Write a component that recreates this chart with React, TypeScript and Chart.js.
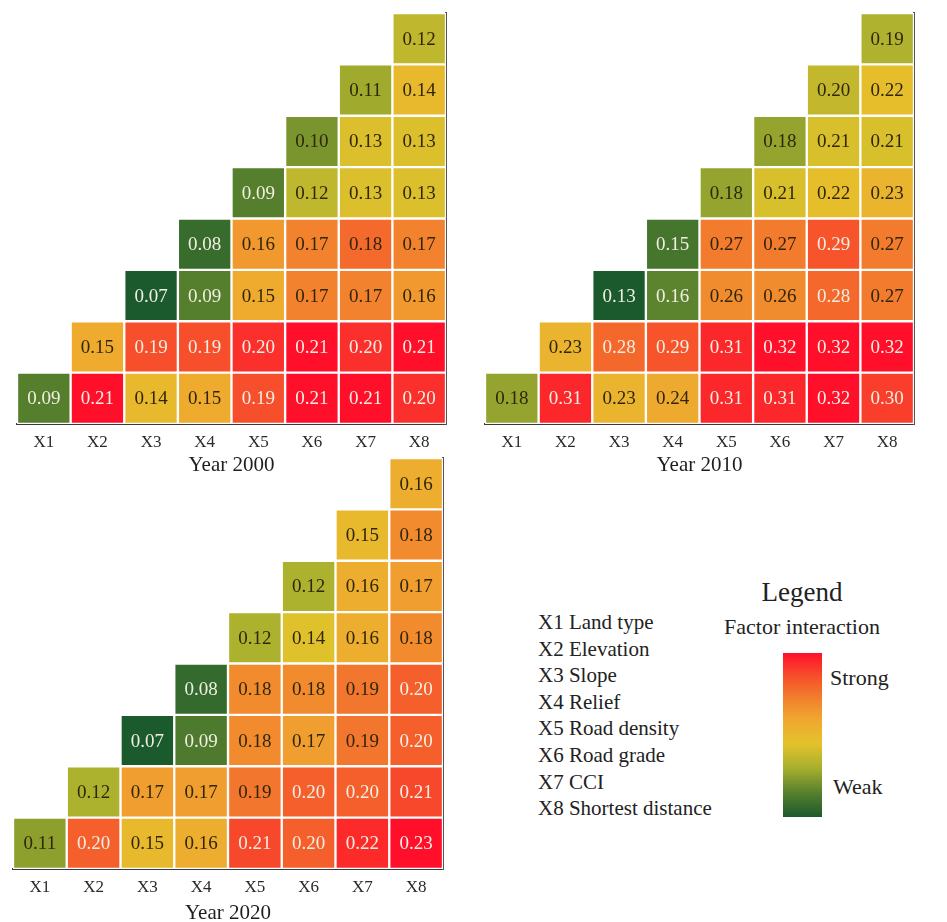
import React, { useEffect, useRef } from 'react';
import { Chart, registerables } from 'chart.js';

Chart.register(...registerables);

// ---------- data ----------
const factors = ['X1', 'X2', 'X3', 'X4', 'X5', 'X6', 'X7', 'X8'];
const factorNames = ['Land type', 'Elevation', 'Slope', 'Relief', 'Road density', 'Road grade', 'CCI', 'Shortest distance'];

// row Xr holds the interactions with columns Xr..X8
const values2000 = [
  [0.09, 0.21, 0.14, 0.15, 0.19, 0.21, 0.21, 0.20],
  [0.15, 0.19, 0.19, 0.20, 0.21, 0.20, 0.21],
  [0.07, 0.09, 0.15, 0.17, 0.17, 0.16],
  [0.08, 0.16, 0.17, 0.18, 0.17],
  [0.09, 0.12, 0.13, 0.13],
  [0.10, 0.13, 0.13],
  [0.11, 0.14],
  [0.12],
];

const values2010 = [
  [0.18, 0.31, 0.23, 0.24, 0.31, 0.31, 0.32, 0.30],
  [0.23, 0.28, 0.29, 0.31, 0.32, 0.32, 0.32],
  [0.13, 0.16, 0.26, 0.26, 0.28, 0.27],
  [0.15, 0.27, 0.27, 0.29, 0.27],
  [0.18, 0.21, 0.22, 0.23],
  [0.18, 0.21, 0.21],
  [0.20, 0.22],
  [0.19],
];

const values2020 = [
  [0.11, 0.20, 0.15, 0.16, 0.21, 0.20, 0.22, 0.23],
  [0.12, 0.17, 0.17, 0.19, 0.20, 0.20, 0.21],
  [0.07, 0.09, 0.18, 0.17, 0.19, 0.20],
  [0.08, 0.18, 0.18, 0.19, 0.20],
  [0.12, 0.14, 0.16, 0.18],
  [0.12, 0.16, 0.17],
  [0.15, 0.18],
  [0.16],
];

const panelTitles = ['Year 2000', 'Year 2010', 'Year 2020'];
const legendTitle = 'Legend';
const legendSubtitle = 'Factor interaction';
const legendHigh = 'Strong';
const legendLow = 'Weak';

// ---------- styling ----------
const FONT = "'Liberation Serif', 'Times New Roman', Times, serif";

const colorStops: [number, number[]][] = [
  [0.0, [27, 90, 45]],
  [0.15, [88, 128, 45]],
  [0.3, [168, 176, 46]],
  [0.45, [228, 194, 44]],
  [0.6, [240, 166, 47]],
  [0.74, [242, 122, 45]],
  [0.87, [248, 74, 43]],
  [1.0, [255, 15, 42]],
];

function cmap(t: number): string {
  const v = Math.max(0, Math.min(1, t));
  for (let i = 1; i < colorStops.length; i++) {
    const [t1, c1] = colorStops[i];
    const [t0, c0] = colorStops[i - 1];
    if (v <= t1) {
      const f = (v - t0) / (t1 - t0);
      const c = c0.map((a, k) => Math.round(a + (c1[k] - a) * f));
      return `rgb(${c[0]},${c[1]},${c[2]})`;
    }
  }
  const c = colorStops[colorStops.length - 1][1];
  return `rgb(${c[0]},${c[1]},${c[2]})`;
}

const gradientCss =
  'linear-gradient(to bottom, ' +
  colorStops
    .slice()
    .reverse()
    .map(([t, c]) => `rgb(${c[0]},${c[1]},${c[2]}) ${Math.round((1 - t) * 100)}%`)
    .join(', ') +
  ')';

type Box = { left: number; top: number; width: number; height: number; l: number; t: number; r: number; b: number; titlePad: number };

const valueLabels = {
  id: 'valueLabels',
  afterDatasetsDraw(chart: any) {
    const ctx = chart.ctx;
    ctx.save();
    ctx.font = `19px ${FONT}`;
    ctx.textAlign = 'center';
    ctx.textBaseline = 'middle';
    chart.data.datasets.forEach((ds: any, r: number) => {
      const meta = chart.getDatasetMeta(r);
      meta.data.forEach((el: any, c: number) => {
        const v = ds.cellValues[c];
        if (v == null) return;
        const t = ds.cellNorm[c];
        ctx.fillStyle = t < 0.18 || t > 0.788 ? '#f1eee2' : '#30260c';
        const { x, y, base } = el.getProps(['x', 'y', 'base'], true);
        ctx.fillText(v.toFixed(2), x, (y + base) / 2 + 1);
      });
    });
    ctx.restore();
  },
};

function Panel({ values, title, box }: { values: number[][]; title: string; box: Box }) {
  const ref = useRef<HTMLCanvasElement | null>(null);
  useEffect(() => {
    if (!ref.current) return;
    const flat = values.flat();
    const min = Math.min(...flat);
    const max = Math.max(...flat);
    const norm = (v: number) => (v - min) / (max - min);
    const datasets = values.map((row, r) => ({
      label: factors[r],
      data: factors.map((_, c) => (c >= r ? [r + 0.5, r + 1.5] : null)),
      cellValues: factors.map((_, c) => (c >= r ? row[c - r] : null)),
      cellNorm: factors.map((_, c) => (c >= r ? norm(row[c - r]) : 0)),
      backgroundColor: factors.map((_, c) => (c >= r ? cmap(norm(row[c - r])) : 'rgba(0,0,0,0)')),
      borderColor: '#ffffff',
      borderWidth: 1.5,
      borderSkipped: false,
      barPercentage: 1,
      categoryPercentage: 1,
      grouped: false,
    }));
    const xH = box.top + box.height - box.b;
    const yW = box.left + box.width - box.r;
    const chart = new Chart(ref.current, {
      type: 'bar',
      data: { labels: factors, datasets: datasets as any },
      options: {
        responsive: false,
        animation: false,
        events: [],
        layout: { padding: { left: box.l - box.left, top: box.t - box.top, right: 0, bottom: 0 } },
        plugins: { legend: { display: false }, tooltip: { enabled: false } },
        scales: {
          x: {
            type: 'category',
            position: 'bottom',
            offset: true,
            grid: { display: false, drawTicks: false },
            border: { display: true, color: '#3a3a3a', width: 2 },
            ticks: { color: '#2a2a2a', font: { family: FONT, size: 17 }, padding: 8, maxRotation: 0 },
            title: {
              display: true,
              text: title,
              color: '#1e1e1e',
              font: { family: FONT, size: 21 },
              padding: { top: 0, bottom: box.titlePad },
            },
            afterFit: (s: any) => {
              s.height = xH;
              s.paddingLeft = 0;
              s.paddingRight = 0;
            },
          },
          y: {
            type: 'linear',
            position: 'right',
            min: 0.5,
            max: 8.5,
            grid: { display: false, drawTicks: false },
            border: { display: true, color: '#555', width: 2 },
            ticks: {
              stepSize: 1,
              includeBounds: false,
              color: '#2a2a2a',
              font: { family: FONT, size: 17 },
              padding: 9,
              callback: (v: any) => factors[Number(v) - 1] ?? '',
            },
            afterFit: (s: any) => {
              s.width = yW;
              s.paddingTop = 0;
              s.paddingBottom = 0;
            },
          },
        },
      },
      plugins: [valueLabels],
    });
    return () => chart.destroy();
  }, [values, title, box]);
  return (
    <canvas
      ref={ref}
      width={box.width}
      height={box.height}
      style={{ position: 'absolute', left: box.left, top: box.top, width: box.width, height: box.height }}
    />
  );
}

const boxes: Box[] = [
  { left: 0, top: 0, width: 480, height: 480, l: 17, t: 13, r: 446, b: 424, titlePad: 2 },
  { left: 480, top: 0, width: 467, height: 480, l: 485, t: 13, r: 914, b: 424, titlePad: 2 },
  { left: 0, top: 445, width: 480, height: 483, l: 13, t: 458, r: 443, b: 869, titlePad: 2 },
];

export default function App() {
  const panelValues = [values2000, values2010, values2020];
  return (
    <div style={{ position: 'absolute', left: 0, top: 0, width: 947, height: 922, background: '#fff', overflow: 'hidden', fontFamily: FONT }}>
      {panelValues.map((v, i) => (
        <Panel key={i} values={v} title={panelTitles[i]} box={boxes[i]} />
      ))}
      <div style={{ position: 'absolute', left: 652, top: 575, width: 300, textAlign: 'center', fontSize: 27, lineHeight: '34px', color: '#222' }}>
        {legendTitle}
      </div>
      <div style={{ position: 'absolute', left: 652, top: 613, width: 300, textAlign: 'center', fontSize: 22, lineHeight: '28px', color: '#222' }}>
        {legendSubtitle}
      </div>
      <div style={{ position: 'absolute', left: 538, top: 609, fontSize: 21, lineHeight: '26.6px', color: '#222', whiteSpace: 'nowrap' }}>
        {factors.map((f, i) => (
          <div key={f}>{`${f} ${factorNames[i]}`}</div>
        ))}
      </div>
      <div style={{ position: 'absolute', left: 783, top: 653, width: 39, height: 164, background: gradientCss }} />
      <div style={{ position: 'absolute', left: 830, top: 664, fontSize: 22, lineHeight: '28px', color: '#222' }}>{legendHigh}</div>
      <div style={{ position: 'absolute', left: 833, top: 773, fontSize: 22, lineHeight: '28px', color: '#222' }}>{legendLow}</div>
    </div>
  );
}
